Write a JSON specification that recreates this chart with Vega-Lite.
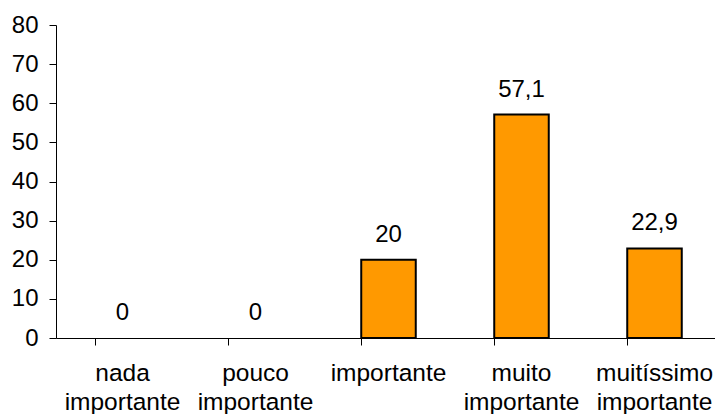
{
  "$schema": "https://vega.github.io/schema/vega-lite/v6.json",
  "width": 665,
  "height": 313,
  "autosize": "none",
  "padding": {"left": 56, "top": 25, "right": 0, "bottom": 76},
  "background": "white",
  "config": {
    "view": {"stroke": null},
    "font": "Liberation Sans",
    "axis": {"grid": false, "domainColor": "#000000", "tickColor": "#000000", "labelColor": "#000000", "labelFont": "Liberation Sans", "labelFontSize": 24, "tickSize": 7, "domainWidth": 1, "tickWidth": 1, "title": null}
  },
  "data": {
    "values": [
      {"cat": "nada importante", "value": 0, "label": "0"},
      {"cat": "pouco importante", "value": 0, "label": "0"},
      {"cat": "importante", "value": 20, "label": "20"},
      {"cat": "muito importante", "value": 57.1, "label": "57,1"},
      {"cat": "muitíssimo importante", "value": 22.9, "label": "22,9"}
    ]
  },
  "encoding": {
    "x": {
      "field": "cat", "type": "nominal",
      "sort": ["nada importante", "pouco importante", "importante", "muito importante", "muitíssimo importante"],
      "scale": {"paddingInner": 0.59, "paddingOuter": 0.295},
      "axis": {"labelAngle": 0, "bandPosition": 0, "labelPadding": 16, "labelBaseline": "top", "labelFontSize": 24.5, "labelLineHeight": 29, "labelExpr": "split(datum.label, ' ')", "labelOverlap": false, "labelBound": false, "labelFlush": false, "labelLimit": 0}
    },
    "y": {
      "field": "value", "type": "quantitative",
      "scale": {"domain": [0, 80], "nice": false},
      "axis": {"values": [0, 10, 20, 30, 40, 50, 60, 70, 80], "labelPadding": 11}
    }
  },
  "layer": [
    {"mark": {"type": "bar", "fill": "#FF9900", "stroke": "#000000", "strokeWidth": 2},
     "encoding": {"strokeOpacity": {"condition": {"test": "datum.value == 0", "value": 0}, "value": 1}}},
    {"mark": {"type": "text", "baseline": "alphabetic", "dy": -18, "fontSize": 24, "font": "Liberation Sans", "color": "#000000"},
     "encoding": {"text": {"field": "label"}}}
  ]
}
